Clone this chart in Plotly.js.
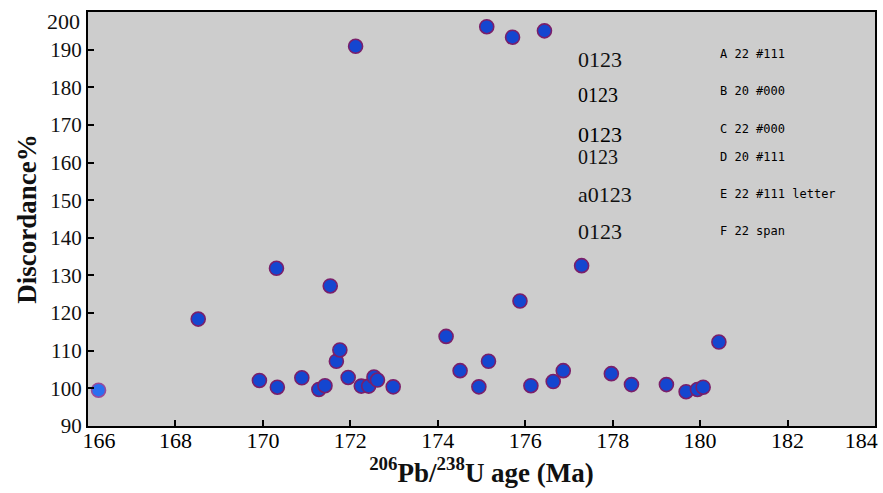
<!DOCTYPE html>
<html>
<head>
<meta charset="utf-8">
<script src="https://cdn.plot.ly/plotly-3.0.1.min.js"></script>
<style>
html,body{margin:0;padding:0;background:#fff;}
#chart{width:883px;height:493px;}
</style>
</head>
<body>
<div id="chart"></div>
<script>
const ages = [166.24,168.52,169.92,170.31,170.33,170.89,171.28,171.42,171.54,171.68,171.76,171.95,172.12,172.25,172.42,172.54,172.62,172.98,174.19,174.51,174.94,175.12,175.16,175.71,175.88,176.13,176.44,176.64,176.87,177.29,177.97,178.43,179.23,179.68,179.94,180.07,180.43];
const discordance = [99.5,118.4,102.1,131.9,100.3,102.8,99.7,100.7,127.2,107.2,110.2,102.9,190.9,100.6,100.6,103.0,102.2,100.4,113.8,104.7,100.4,196.1,107.2,193.3,123.2,100.7,195.0,101.8,104.7,132.6,103.9,101.0,101.0,99.1,99.7,100.3,112.3];
const xTicks = [166,168,170,172,174,176,178,180,182,184];
const yTicks = [90,100,110,120,130,140,150,160,170,180,190,200];
const fillColors = ages.map((_, i) => i === 0 ? '#2a6ff0' : '#1446d0');
const lineColors = ages.map((_, i) => i === 0 ? '#9a4a9a' : '#7a1f6a');
const xText = xTicks.map((v, i) => i === 0 ? '    ' + v : (i === xTicks.length - 1 ? v + '     ' : String(v)));
const yTop = yTicks[yTicks.length - 1];
const yText = yTicks.map(v => v === yTop ? '' : String(v));
const trace = {
  x: ages, y: discordance, type: 'scatter', mode: 'markers',
  marker: {size: 14, color: fillColors, line: {color: lineColors, width: 1.6}},
  hoverinfo: 'x+y', cliponaxis: false
};
const fam = 'Liberation Serif, serif';
const tests = [
  ['A 22 #111', 22, '#111', '0123'],
  ['B 20 #000', 20, '#000', '0123'],
  ['C 22 #000', 22, '#000', '0123'],
  ['D 20 #111', 20, '#111', '0123'],
  ['E 22 #111 letter', 22, '#111', 'a0123'],
  ['F 22 span', 22, '#111', '<span style="font-family:Liberation Serif">0123</span>']
];
const testAnn = [];
tests.forEach((t, i) => {
  testAnn.push({x: 0.62, xref: 'paper', y: 0.92 - i * 0.09, yref: 'paper', text: t[3], showarrow: false, xanchor: 'left', font: {family: fam, size: t[1], color: t[2]}});
  testAnn.push({x: 0.80, xref: 'paper', y: 0.92 - i * 0.09, yref: 'paper', text: t[0], showarrow: false, xanchor: 'left', font: {family: 'DejaVu Sans Mono', size: 12, color: '#000'}});
});
const layout = {
  width: 883, height: 493,
  margin: {l: 88, r: 8, t: 12, b: 67},
  paper_bgcolor: '#ffffff', plot_bgcolor: '#cdcdcd',
  showlegend: false,
  font: {family: fam, color: '#111', size: 22},
  xaxis: {
    range: [165.999, 184.001], tickmode: 'array', tickvals: xTicks, ticktext: xText,
    showgrid: false, zeroline: false,
    showline: true, linecolor: '#000', linewidth: 2, mirror: true,
    ticks: 'inside', ticklen: 6, tickwidth: 2, tickcolor: '#000',
    tickfont: {family: fam, size: 22, color: '#000'},
    ticklabeloverflow: 'allow', ticklabelstandoff: -6,
    title: {text: '<b><sup>206</sup>Pb/<sup>238</sup>U age (Ma)</b>', font: {family: fam, size: 27, color: '#111'}, standoff: 0}
  },
  yaxis: {
    range: [89.995, 200.005], tickmode: 'array', tickvals: yTicks, ticktext: yText,
    showgrid: false, zeroline: false,
    showline: true, linecolor: '#000', linewidth: 2, mirror: true,
    ticks: 'inside', ticklen: 6, tickwidth: 2, tickcolor: '#000',
    tickfont: {family: fam, size: 21, color: '#111'},
    ticklabeloverflow: 'allow',
    title: {text: '<b>Discordance%</b>', font: {family: fam, size: 27, color: '#111'}, standoff: 6}
  },
  annotations: [{
    x: 0, xref: 'paper', y: yTop, yref: 'y', text: String(yTop), showarrow: false,
    xanchor: 'right', yanchor: 'middle', xshift: -6, yshift: -9,
    font: {family: fam, size: 22, color: '#111'}
  }].concat(testAnn)
};
Plotly.newPlot('chart', [trace], layout, {staticPlot: true, displayModeBar: false});
</script>
</body>
</html>
